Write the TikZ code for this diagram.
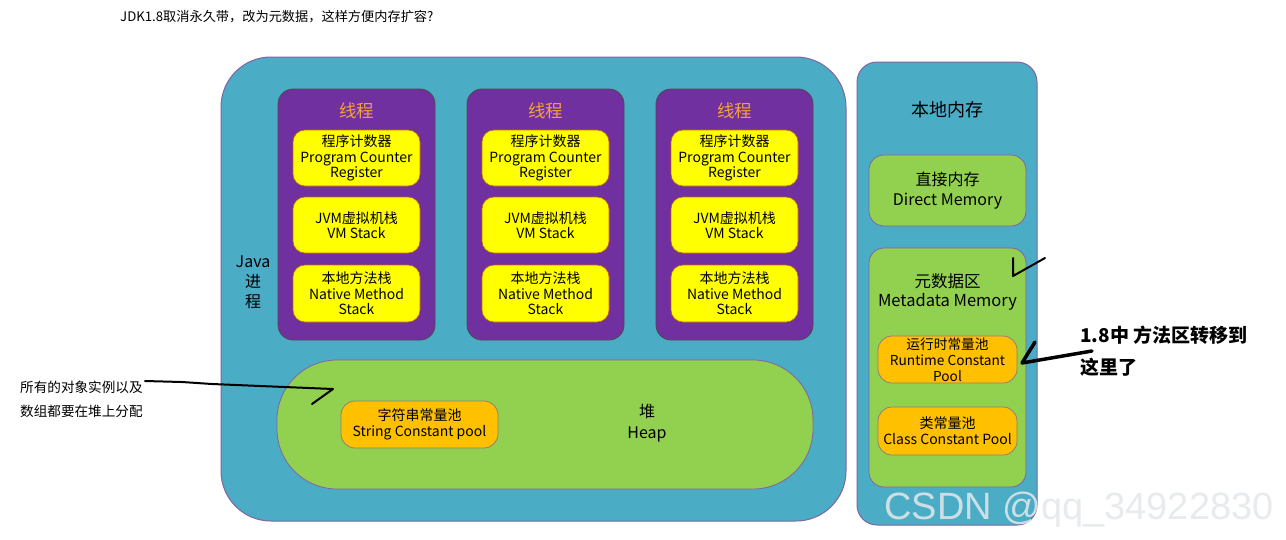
\documentclass[tikz,border=0pt]{standalone}
\usepackage{fontspec}
\setmainfont{Noto Sans CJK SC}
\newfontfamily\wmfont{Liberation Sans}
\definecolor{teal}{HTML}{4BACC6}
\definecolor{tpurple}{HTML}{7030A0}
\definecolor{yel}{HTML}{FFFF00}
\definecolor{grn}{HTML}{92D050}
\definecolor{org}{HTML}{FFC000}
\definecolor{thr}{HTML}{F5A040}
\definecolor{bord}{HTML}{8064A2}
\definecolor{wmc}{HTML}{E4E8EA}
\tikzset{
  fs/.style={font=\fontsize{#1}{#1}\selectfont},
  area/.style={draw=bord, line width=1pt, fill=teal, rounded corners=#1, inner sep=0pt},
  thread/.style={draw=black!70, line width=0.8pt, fill=tpurple, rounded corners=15pt, minimum width=157pt, minimum height=251pt, inner sep=0pt},
  ybox/.style={draw=orange!80!black, line width=0.6pt, fill=yel, rounded corners=12pt, minimum width=127pt, align=center, inner sep=0pt, font=\fontsize{14}{15.5}\selectfont},
  gbox/.style={draw=bord, line width=0.8pt, fill=grn, rounded corners=#1, inner sep=0pt},
  obox/.style={draw=gray!70!brown, line width=0.8pt, fill=org, rounded corners=14pt, align=center, inner sep=0pt, font=\fontsize{14}{16}\selectfont},
  hand/.style={draw=black, line width=2pt, line join=round, line cap=round},
  lbl/.style={align=center, inner sep=0pt}
}
\begin{document}
\begin{tikzpicture}[x=1pt,y=-1pt]
\useasboundingbox (0,0) rectangle (1286,539);
\fill[white] (0,0) rectangle (1286,539);
% title
\node[anchor=west, inner sep=0pt, fs=13.2] (title) at (120,17) {JDK1.8取消永久带，改为元数据，这样方便内存扩容?};
% Java process
\node[area=50pt, minimum width=625pt, minimum height=464pt] (java) at (533.5,289) {};
\node[lbl, font=\fontsize{16}{20}\selectfont] (javalbl) at (253,282) {Java\\进\\程};
% threads
\foreach \i/\dx in {1/0,2/189,3/378}{
  \node[thread] (thread\i) at (356.5+\dx,214.5) {};
  \node[lbl, text=thr, fs=17.5] (tl\i) at (356.5+\dx,111) {线程};
  \node[ybox, minimum height=56pt] (pc\i) at (356.5+\dx,158) {程序计数器\\Program Counter\\Register};
  \node[ybox, minimum height=56pt] (vm\i) at (356.5+\dx,225) {JVM虚拟机栈\\VM Stack};
  \node[ybox, minimum height=57pt] (nm\i) at (356.5+\dx,293.5) {本地方法栈\\Native Method\\Stack};
}
% heap
\node[gbox=60pt, minimum width=536pt, minimum height=129pt] (heap) at (545,424.5) {};
\node[obox, minimum width=157pt, minimum height=47pt] (strpool) at (419.5,424.5) {字符串常量池\\String Constant pool};
\node[lbl, font=\fontsize{16}{21}\selectfont] (heaplbl) at (647,423.5) {堆\\Heap};
% native memory
\node[area=20pt, minimum width=180pt, minimum height=463pt] (native) at (947,293.5) {};
\node[lbl, fs=18] (nativelbl) at (947,110) {本地内存};
\node[gbox=15pt, minimum width=157pt, minimum height=71pt, align=center, font=\fontsize{16}{20}\selectfont] (direct) at (947.5,190.5) {直接内存\\Direct Memory};
\node[gbox=15pt, minimum width=157pt, minimum height=239pt] (meta) at (947.5,367.5) {};
\node[lbl, font=\fontsize{16.5}{19}\selectfont] (metalbl) at (947.5,292) {元数据区\\Metadata Memory};
\node[obox, minimum width=139pt, minimum height=47pt, font=\fontsize{13.7}{16}\selectfont] (rcp) at (947.5,359.5) {运行时常量池\\Runtime Constant\\Pool};
\node[obox, minimum width=139pt, minimum height=48pt] (ccp) at (947.5,431) {类常量池\\Class Constant Pool};
% annotations
\node[anchor=west, align=left, inner sep=0pt, font=\fontsize{13.6}{24}\selectfont] (note) at (20,399) {所有的对象实例以及\\数组都要在堆上分配};
\coordinate (n1) at (145,381);
\coordinate (n2) at (333,389);
\coordinate (n3) at (312,404);
\draw[hand] (n1) -- (182,382) -- (212,384) -- (n2) -- (n3);
\coordinate (t1) at (1013,258);
\coordinate (t2) at (1013,276);
\coordinate (t3) at (1045,258);
\draw[hand] (t1) -- (t2) -- (t3);
\node[anchor=west, align=left, inner sep=0pt, font=\fontsize{19}{32}\selectfont\bfseries] (note2) at (1080,351) {1.8中 方法区转移到\\这里了};
\coordinate (a1) at (1092,351);
\coordinate (a2) at (1022,363);
\coordinate (a3) at (1035,342);
\draw[hand, line width=3.5pt] (a1) -- (a2) -- (a3);
% watermark
\node[text=wmc, opacity=0.85, inner sep=0pt, font=\fontsize{38}{40}\selectfont\wmfont] (wm) at (1079,510) {CSDN @qq\_34922830};
\end{tikzpicture}
\end{document}
